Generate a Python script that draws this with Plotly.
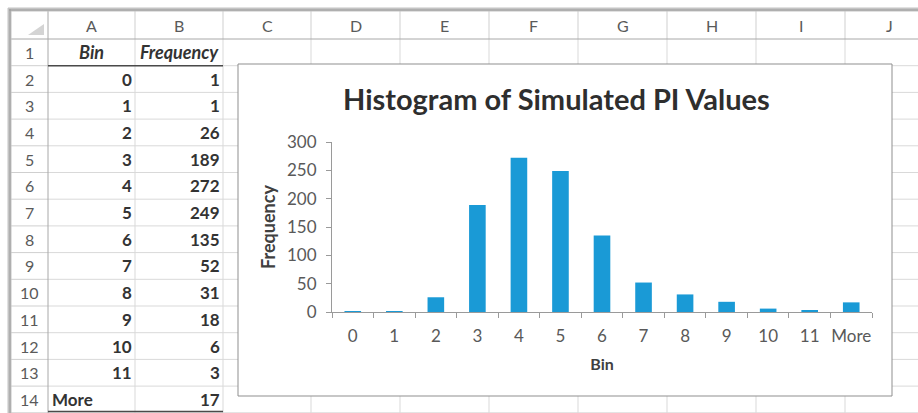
import plotly.graph_objects as go

# ---------------- data ----------------
bins = ["0", "1", "2", "3", "4", "5", "6", "7", "8", "9", "10", "11", "More"]
freq = [1, 1, 26, 189, 272, 249, 135, 52, 31, 18, 6, 3, 17]
col_letters = ["A", "B", "C", "D", "E", "F", "G", "H", "I", "J"]
row_numbers = list(range(1, 15))
table_header = ["Bin", "Frequency"]
chart_title = "Histogram of Simulated PI Values"
x_title = "Bin"
y_title = "Frequency"

# ---------------- geometry (pixels) ----------------
W, H = 918, 413
def px(x):
    return x / W
def py(y):
    return 1 - y / H

HEAD_TOP = 11
ROW_TOP0 = 39
ROW_H = 26.7
col_edges = [11, 48, 135, 223, 311, 400, 489, 578, 667, 756, 845, 934]
row_edges = [ROW_TOP0 + i * ROW_H for i in range(15)]
CHART = dict(x0=238, y0=64, x1=892, y1=396)
PLOT_X = (332, 872)
PLOT_Y = (142, 312)  # top, bottom

FONT = "Lato, 'Open Sans', sans-serif"
GRID = "#d9d9d9"
HDR_LINE = "#a8a8a8"
AXIS_C = "#9a9a9a"

shapes = []
def hline(y, x0, x1, color, width=1):
    shapes.append(dict(type="line", xref="paper", yref="paper", layer="below",
                       x0=px(x0), x1=px(x1), y0=py(y), y1=py(y),
                       line=dict(color=color, width=width)))
def vline(x, y0, y1, color, width=1):
    shapes.append(dict(type="line", xref="paper", yref="paper", layer="below",
                       x0=px(x), x1=px(x), y0=py(y0), y1=py(y1),
                       line=dict(color=color, width=width)))

# body gridlines
for ry in row_edges[1:]:
    hline(ry, 48, W, GRID)
for cx in col_edges[2:]:
    vline(cx, ROW_TOP0, H, GRID)
# header separators
for cx in col_edges[2:]:
    vline(cx, HEAD_TOP, ROW_TOP0, "#cfcfcf")
for ry in row_edges[1:]:
    hline(ry, HEAD_TOP, 48, "#cfcfcf")
# header borders
hline(ROW_TOP0, HEAD_TOP, W, HDR_LINE)
vline(48, HEAD_TOP, H, HDR_LINE)
# outer window frame
shapes.append(dict(type="line", xref="paper", yref="paper", layer="below",
                   x0=px(9.5), x1=px(9.5), y0=py(8), y1=py(H), line=dict(color="#c4c4c4", width=4)))
shapes.append(dict(type="line", xref="paper", yref="paper", layer="below",
                   x0=px(8), x1=px(W), y0=py(9.5), y1=py(9.5), line=dict(color="#c4c4c4", width=4)))
vline(10, 9, H, "#9a9a9a", 1)
hline(10, 9, W, "#9a9a9a", 1)
# corner triangle
shapes.append(dict(type="path", xref="paper", yref="paper", layer="below",
                   path=f"M {px(44)} {py(24)} L {px(44)} {py(35)} L {px(28)} {py(35)} Z",
                   fillcolor="#d4d4d4", line=dict(width=0)))
# table borders
hline(row_edges[1], 48, 223, "#4a4a4a", 1.5)
hline(411.5, 48, 223, "#4a4a4a", 1.5)
# chart box
shapes.append(dict(type="rect", xref="paper", yref="paper", layer="below",
                   x0=px(CHART["x0"]), x1=px(CHART["x1"]),
                   y0=py(CHART["y1"]), y1=py(CHART["y0"]),
                   fillcolor="white", line=dict(color="#8f8f8f", width=1)))

annotations = []
def text(x, y, s, anchor="center", size=16, color="#333333", bold=False, italic=False):
    t = s
    if bold:
        t = f"<b>{t}</b>"
    if italic:
        t = f"<i>{t}</i>"
    annotations.append(dict(xref="paper", yref="paper", x=px(x), y=py(y), text=t,
                            xanchor=anchor, yanchor="middle", showarrow=False,
                            font=dict(family=FONT, size=size, color=color)))

# column letters
for i, L in enumerate(col_letters):
    cx = (col_edges[i + 1] + col_edges[i + 2]) / 2
    text(cx, (HEAD_TOP + ROW_TOP0) / 2 + 1, L, size=16, color="#5a5a5a")
# row numbers
for i, n in enumerate(row_numbers):
    cy = (row_edges[i] + row_edges[i + 1]) / 2
    text(29, cy, str(n), size=16, color="#5a5a5a")
# table header
cy1 = (row_edges[0] + row_edges[1]) / 2
text((48 + 135) / 2, cy1, table_header[0], size=18, bold=True, italic=True)
text((135 + 223) / 2, cy1, table_header[1], size=18, bold=True, italic=True)
# table body
for i, (b, f) in enumerate(zip(bins, freq)):
    cy = (row_edges[i + 1] + row_edges[i + 2]) / 2
    if b.isdigit():
        text(134, cy, b, anchor="right", size=17, bold=True)
    else:
        text(50, cy, b, anchor="left", size=17, bold=True)
    text(222, cy, str(f), anchor="right", size=17, bold=True)

# chart title
text(556, 98, chart_title, size=29, color="#2e2e2e", bold=True)

fig = go.Figure()
fig.add_trace(go.Bar(x=bins, y=freq, marker=dict(color="#1a9ad6", line=dict(width=0))))

fig.update_layout(
    width=W, height=H,
    margin=dict(l=0, r=0, t=0, b=0),
    paper_bgcolor="white", plot_bgcolor="white",
    showlegend=False, bargap=0.6,
    shapes=shapes, annotations=annotations,
    font=dict(family=FONT, color="#595959"),
    xaxis=dict(domain=[px(PLOT_X[0]), px(PLOT_X[1])], type="category",
               tickson="boundaries", ticks="outside", ticklen=5, tickcolor=AXIS_C,
               showline=True, linecolor=AXIS_C, linewidth=1, showgrid=False,
               tickangle=0,
               tickfont=dict(size=17, color="#595959"), ticklabelstandoff=9,
               title=dict(text=f"<b>{x_title}</b>", standoff=13,
                          font=dict(size=16, color="#404040")),
               automargin=False, fixedrange=True),
    yaxis=dict(domain=[py(PLOT_Y[1]), py(PLOT_Y[0])], range=[0, 300], dtick=50,
               ticks="outside", ticklen=5, tickcolor=AXIS_C,
               showline=True, linecolor=AXIS_C, linewidth=1, showgrid=False, zeroline=False,
               tickfont=dict(size=17, color="#595959"), ticklabelstandoff=6,
               title=dict(text=f"<b>{y_title}</b>", standoff=6,
                          font=dict(size=18, color="#404040")),
               automargin=False, fixedrange=True),
)

fig.write_html("out.html", config={"displayModeBar": False},
               post_script="document.body.style.margin='0px';document.body.style.overflow='hidden';")
